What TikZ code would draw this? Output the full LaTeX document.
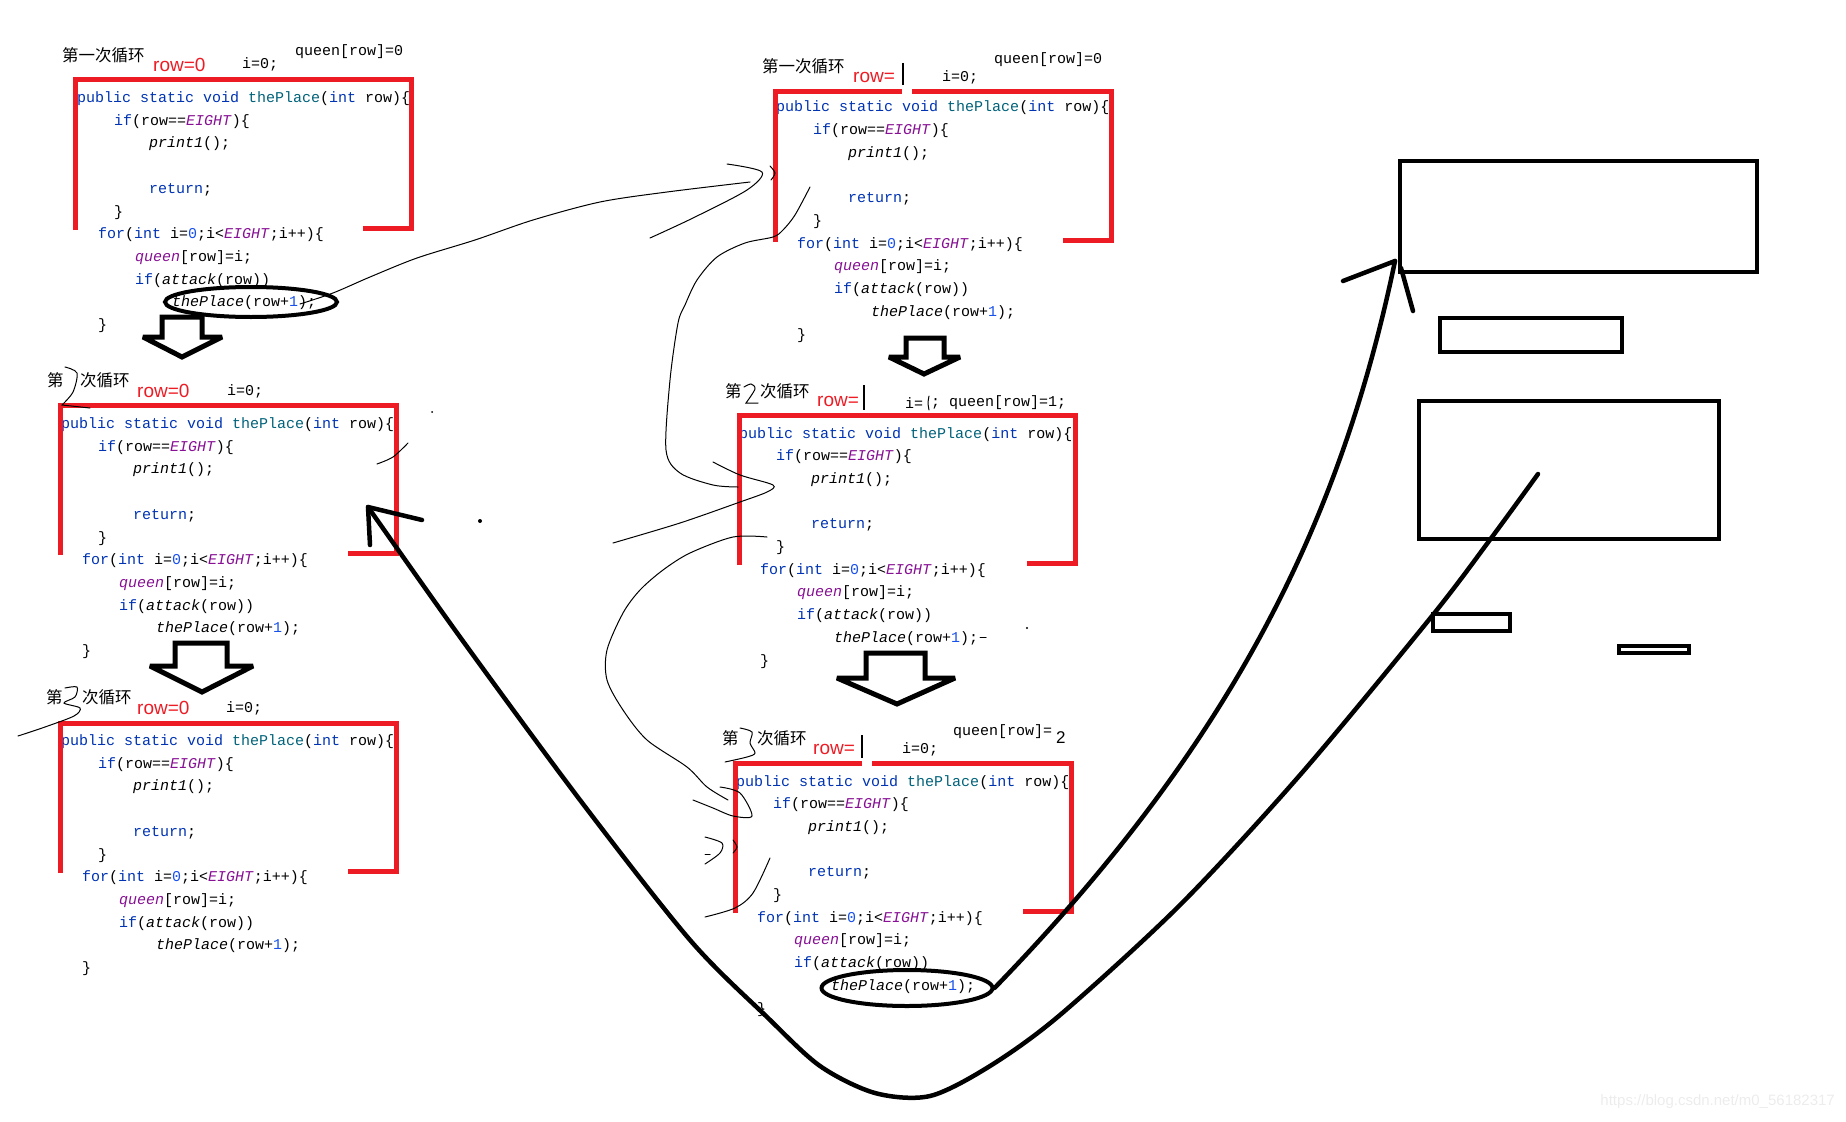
\documentclass[tikz,border=0pt]{standalone}
\usepackage{fontspec}
\setmainfont{Liberation Sans}
\setmonofont{Liberation Mono}
\newfontfamily\cjk{Noto Sans CJK SC}
\usepackage{xcolor}
\usepackage{tikz}
\usetikzlibrary{shapes.geometric}

\definecolor{paintred}{HTML}{ED1C24}
\definecolor{kwblue}{HTML}{0033B3}
\definecolor{fnteal}{HTML}{00627A}
\definecolor{cnpurple}{HTML}{871094}
\definecolor{numblue}{HTML}{1750EB}

\newcommand{\jkw}[1]{\textcolor{kwblue}{#1}}
\newcommand{\jfn}[1]{\textcolor{fnteal}{#1}}
\newcommand{\jcn}[1]{\textcolor{cnpurple}{\textit{#1}}}
\newcommand{\jnum}[1]{\textcolor{numblue}{#1}}

\begin{document}
\begin{tikzpicture}[x=1pt, y=-1pt]
  \tikzset{
    codeline/.style={anchor=base west, inner sep=0pt, font=\ttfamily\fontsize{15}{18}\selectfont},
    note/.style={anchor=west, inner sep=0pt, font=\ttfamily\fontsize{15}{18}\selectfont},
    header/.style={anchor=west, inner sep=0pt, font=\cjk\fontsize{16.5}{18}\selectfont},
    rowlabel/.style={anchor=west, inner sep=0pt, text=paintred, font=\fontsize{19}{22}\selectfont},
    redbox/.style={draw=paintred, line width=5pt},
    oval/.style={ellipse, draw, line width=4pt, inner sep=0pt},
    fatarrow/.style={draw, line width=5pt, line join=miter, miter limit=1.6},
    bigline/.style={line width=4.5pt, line cap=round, line join=round},
    plainbox/.style={rectangle, draw, line width=4pt, inner sep=0pt},
    pen/.style={line width=1pt, line cap=round}
  }
  \useasboundingbox (0,0) rectangle (1846,1121);

  % the six copies of thePlace()
  \foreach \n/\cx/\cy in {A/77/102.5, B/61/428.5, C/61/745.5, D/776/112, E/739/438, F/736/786} {
    \begin{scope}[shift={(\cx,\cy)}]
      \node[codeline] (\n-sig)    at (0,0)      {\jkw{public static void} \jfn{thePlace}(\jkw{int} row)\{};
      \node[codeline] (\n-if)     at (37,22.7)  {\jkw{if}(row==\jcn{EIGHT})\{};
      \node[codeline] (\n-print)  at (72,45.4)  {\textit{print1}();};
      \node[codeline] (\n-ret)    at (72,90.8)  {\jkw{return};};
      \node[codeline] (\n-endif)  at (37,113.5) {\}};
      \node[codeline] (\n-for)    at (21,136.2) {\jkw{for}(\jkw{int} i=\jnum{0};i<\jcn{EIGHT};i++)\{};
      \node[codeline] (\n-set)    at (58,158.9) {\jcn{queen}[row]=i;};
      \node[codeline] (\n-test)   at (58,181.6) {\jkw{if}(\textit{attack}(row))};
      \node[codeline] (\n-call)   at (95,204.3) {\textit{thePlace}(row+\jnum{1});};
      \node[codeline] (\n-endfor) at (21,227)   {\}};
    \end{scope}
  }

  % red brackets round the upper part
  \foreach \lx/\ty in {75/80, 60/405, 60/723, 775/92, 739/415, 735/763}
    \draw[redbox] (\lx,\ty+150) -- (\lx,\ty) -- (\lx+336,\ty) -- (\lx+336,\ty+148) -- (\lx+288,\ty+148);
  \fill[white] (902,88) rectangle (912,97);
  \fill[white] (862,759) rectangle (872,768);

  % left column: first, second, third loop
  \node[header] (A-title) at (62,55) {第一次循环};
  \node[rowlabel] (A-row) at (153,65) {row=0};
  \node[note] (A-i) at (242,64) {i=0;};
  \node[note] (A-queen) at (295,52) {queen[row]=0};

  \node[header] (B-di) at (47,380) {第};
  \node[header] (B-title) at (80,380) {次循环};
  \node[rowlabel] (B-row) at (137,391) {row=0};
  \node[note] (B-i) at (227,391) {i=0;};
  \draw[pen] plot[smooth] coordinates {(65,367) (77,373) (73,392) (62,405)} -- (90,408);

  \node[header] (C-di) at (46,697) {第};
  \node[header] (C-title) at (82,697) {次循环};
  \node[rowlabel] (C-row) at (137,708) {row=0};
  \node[note] (C-i) at (226,708) {i=0;};
  \draw[pen] plot[smooth] coordinates {(65,688) (77,687) (75,697) (64,703) (80,708) (74,716) (45,727) (18,736)};

  % middle column
  \node[header] (D-title) at (762,66) {第一次循环};
  \node[rowlabel] (D-row) at (853,77) {row=};
  \draw[line width=1.5pt] (903,63) -- (903,85);
  \node[note] (D-i) at (942,77) {i=0;};
  \node[note] (D-queen) at (994,60) {queen[row]=0};

  \node[header] (E-di) at (725,391) {第};
  \draw[pen] plot[smooth] coordinates {(744,387) (751,384) (755,389) (746,403)} -- (758,403);
  \node[header] (E-title) at (760,391) {次循环};
  \node[rowlabel] (E-row) at (817,401) {row=};
  \draw[line width=1.5pt] (864,385) -- (864,410);
  \node[note] (E-i) at (905,403) {i=};
  \draw[pen] plot[smooth] coordinates {(929,396) (928,403) (929,410)};
  \node[note] (E-queen) at (931,403) {; queen[row]=1;};

  \node[header] (F-di) at (722,738) {第};
  \draw[pen] plot[smooth] coordinates {(740,728) (752,732) (750,743) (755,753) (747,757) (725,762)};
  \node[header] (F-title) at (757,738) {次循环};
  \node[rowlabel] (F-row) at (813,749) {row=};
  \draw[line width=1.5pt] (862,735) -- (862,758);
  \node[note] (F-i) at (902,749) {i=0;};
  \node[note] (F-queen) at (953,732) {queen[row]=};
  \node[anchor=west, inner sep=0pt, font=\fontsize{17}{20}\selectfont] (F-two) at (1056,738) {2};

  % circled recursive calls
  \node[oval, minimum width=172, minimum height=30] (A-oval) at (251,302) {};
  \node[oval, minimum width=171, minimum height=36] (F-oval) at (907,988) {};

  % hollow down arrows between loops
  \foreach \sl/\sr/\st/\hy/\wl/\wr/\tx/\ty in {162/202/317/337/143/222/182/357, 175/227/643/666/150/253/202/692,
      906/944/338/357/889/960/924/374, 866/925/653/678/837/955/897/704}
    \draw[fatarrow] (\sl,\st) -- (\sr,\st) -- (\sr,\hy) -- (\wr,\hy) -- (\tx,\ty) -- (\wl,\hy) -- (\sl,\hy) -- cycle;

  % right side boxes
  \node[plainbox, minimum width=357, minimum height=111] (R1) at (1578.5,216) {};
  \node[plainbox, minimum width=182, minimum height=34] (R2) at (1531,335) {};
  \node[plainbox, minimum width=300, minimum height=138] (R3) at (1569,470) {};
  \node[plainbox, minimum width=77, minimum height=17] (R4) at (1471,622.5) {};
  \node[plainbox, minimum width=70, minimum height=7] (R5) at (1654,649) {};

  % thick arrows
  \coordinate (up-tip) at (1395,261);
  \coordinate (u-start) at (1538,474);
  \coordinate (u-tip) at (368,507);
  \draw[bigline] (F-oval.east) .. controls (1230,745) and (1340,525) .. (up-tip);
  \draw[bigline] (1343,281) -- (up-tip);
  \draw[bigline] (1401,268) -- (1413,311);
  \draw[bigline] plot[smooth] coordinates {(u-start) (1492,537) (1432,616) (1300,775) (1180,905) (1060,1015) (990,1066)
      (930,1096) (875,1093) (820,1066) (767,1017) (690,940) (580,800) (460,637) (u-tip)};
  \draw[bigline] (422,520) -- (u-tip) -- (370,545);

  % pen strokes
  \draw[pen] plot[smooth] coordinates {(300,304) (333,293) (370,277) (417,258) (475,240) (533,220) (600,202) (667,192) (750,182)};
  \draw[pen] plot[smooth] coordinates {(727,164) (762,172) (747,190) (693,218) (650,238)};
  \draw[pen] plot[smooth] coordinates {(770,166) (775,173) (771,180)};
  \draw[pen] plot[smooth] coordinates {(810,187) (795,215) (783,230) (773,237) (745,243) (717,257) (697,280) (685,305)
      (678,323) (670,380) (666,450) (680,473) (713,485) (738,487)};
  \draw[pen] plot[smooth] coordinates {(713,462) (740,475) (773,485) (767,492) (740,502) (680,523) (613,543)};
  \draw[pen] plot[smooth] coordinates {(767,537) (733,537) (690,553) (663,570) (640,590) (623,613) (607,650) (607,680)
      (623,710) (647,740) (687,767) (707,787) (728,800)};
  \draw[pen] plot[smooth] coordinates {(720,787) (740,793) (752,816) (733,816) (713,808) (693,800)};
  \draw[pen] plot[smooth] coordinates {(705,837) (722,843) (720,853) (705,864)};
  \draw[pen] (705,854) -- (710,854);
  \draw[pen] plot[smooth] coordinates {(733,840) (737,847) (733,853)};
  \draw[pen] plot[smooth] coordinates {(770,858) (753,893) (735,908) (705,917)};
  \draw[pen] plot[smooth] coordinates {(408,443) (393,457) (377,464)};
  \draw[pen] (980,637) -- (986,637);
  \fill (432,412) circle (1);
  \fill (480,521) circle (2);
  \fill (1027,628) circle (1.2);

  \node[anchor=east, inner sep=0pt, text=gray!15, font=\fontsize{15}{18}\selectfont] (mark) at (1835,1102) {https://blog.csdn.net/m0\_56182317};
\end{tikzpicture}
\end{document}
